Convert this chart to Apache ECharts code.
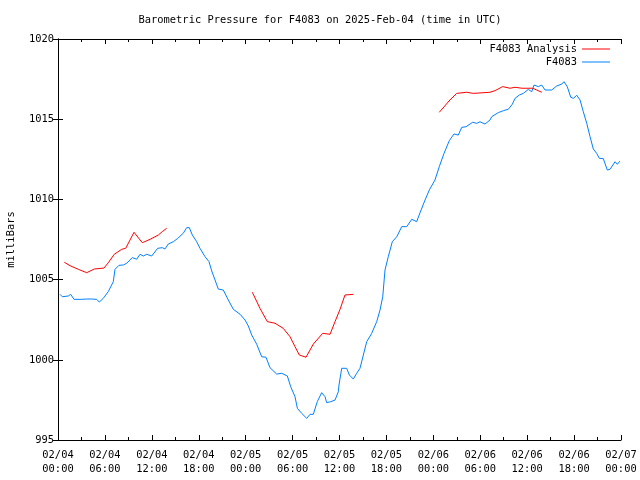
<!DOCTYPE html>
<html>
<head>
<meta charset="utf-8">
<script src="https://cdn.jsdelivr.net/npm/echarts@6/dist/echarts.min.js"></script>
<style>html,body{margin:0;padding:0;background:#fff}#c{width:640px;height:480px}</style>
</head>
<body>
<div id="c"></div>
<script>
// Hours since 2025-02-04 00:00 UTC
var obsHours = [0.26,0.55,1.32,1.62,2.05,3.03,3.67,4.31,4.95,5.28,5.79,6.43,7.07,7.29,7.80,8.35,8.79,9.50,10.07,10.49,10.91,11.34,11.98,12.75,13.34,13.68,14.11,14.75,15.31,16.02,16.46,16.79,17.18,17.74,18.16,18.38,18.80,19.31,19.66,20.08,20.50,21.14,21.78,22.42,23.28,23.92,24.34,24.77,25.41,26.05,26.60,27.11,27.97,28.61,29.33,29.76,30.31,30.61,31.17,31.81,32.23,32.65,33.16,33.72,34.15,34.36,34.88,35.43,35.85,35.94,36.28,36.92,37.26,37.77,38.20,38.62,39.48,40.12,40.76,41.18,41.53,41.82,42.24,42.75,43.32,43.96,44.60,45.24,45.87,46.30,46.94,47.49,48.21,48.76,49.37,50.04,50.64,51.19,51.63,52.18,53.04,53.55,53.97,54.61,55.25,55.47,56.31,56.95,57.59,58.10,58.45,59.00,59.51,60.15,60.58,60.88,61.43,61.86,62.28,63.14,63.78,64.42,64.71,65.13,65.57,65.90,66.34,66.76,67.18,67.62,68.04,68.46,68.89,69.23,69.74,70.25,70.60,71.24,71.53,71.87];
var obsPressure = [1004.08,1003.93,1003.98,1004.08,1003.77,1003.77,1003.79,1003.79,1003.77,1003.60,1003.83,1004.25,1004.87,1005.64,1005.89,1005.91,1006.02,1006.37,1006.27,1006.58,1006.47,1006.58,1006.47,1006.95,1006.99,1006.91,1007.22,1007.36,1007.57,1007.89,1008.24,1008.24,1007.78,1007.36,1006.95,1007.05,1006.43,1006.12,1005.54,1004.98,1004.41,1004.35,1003.73,1003.15,1002.84,1002.48,1002.11,1001.55,1000.97,1000.19,1000.16,999.51,999.11,999.16,998.99,998.32,997.70,996.98,996.66,996.35,996.60,996.60,997.39,997.95,997.70,997.33,997.39,997.49,998.01,998.43,999.47,999.47,999.05,998.80,999.16,999.47,1001.13,1001.65,1002.38,1003.10,1003.93,1005.60,1006.43,1007.36,1007.67,1008.30,1008.30,1008.76,1008.61,1009.17,1009.96,1010.59,1011.21,1012.04,1012.87,1013.66,1014.08,1014.01,1014.49,1014.53,1014.81,1014.74,1014.84,1014.70,1014.95,1015.16,1015.41,1015.53,1015.62,1015.93,1016.30,1016.51,1016.61,1016.86,1016.71,1017.13,1017.03,1017.13,1016.82,1016.82,1017.07,1017.19,1017.34,1017.03,1016.37,1016.30,1016.49,1016.20,1015.47,1014.74,1013.91,1013.14,1012.87,1012.56,1012.54,1011.83,1011.88,1012.35,1012.19,1012.39];
// null entries separate the analysis runs
var anaHours = [0.81,1.53,2.60,3.67,4.64,5.88,6.43,7.20,8.15,8.66,9.72,10.78,11.77,12.83,13.34,13.90,
  null,
  24.85,25.83,26.77,27.75,28.81,29.67,30.31,30.86,31.72,32.65,33.85,34.79,35.43,36.07,36.70,37.77,
  null,
  48.76,50.13,50.99,52.27,53.11,55.25,55.89,56.87,57.81,58.45,59.30,60.71,61.22,61.86];
var anaPressure = [1006.08,1005.87,1005.64,1005.43,1005.66,1005.72,1006.05,1006.58,1006.89,1006.95,1007.95,1007.30,1007.51,1007.78,1007.99,1008.20,
  null,
  1004.21,1003.21,1002.38,1002.28,1001.96,1001.44,1000.82,1000.30,1000.16,1000.98,1001.65,1001.59,1002.38,1003.15,1004.04,1004.08,
  null,
  1015.43,1016.20,1016.61,1016.68,1016.61,1016.68,1016.78,1017.03,1016.93,1016.99,1016.93,1016.93,1016.82,1016.68];

var xMin = 0, xMax = 72, xStep = 6;
var yMin = 995, yMax = 1020, yStep = 5;
var titleText = 'Barometric Pressure for F4083 on 2025-Feb-04 (time in UTC)';
var yName = 'milliBars';
var anaName = 'F4083 Analysis', obsName = 'F4083';

function pad(n){return (n<10?'0':'')+n;}
function xLabel(h){
  var day = 4 + Math.floor(h/24);
  var hr = h % 24;
  return '02/' + pad(day) + '\n' + pad(hr) + ':00';
}
var obsData = obsHours.map(function(h,i){return [h, obsPressure[i]];});
var anaData = anaHours.map(function(h,i){return h===null ? ['-','-'] : [h, anaPressure[i]];});

var font = 'DejaVu Sans Mono';
var fs = 10.4;
var tstyle = {fontFamily: font, fontSize: fs, color: '#000'};
var axisLine = {show:true, lineStyle:{color:'#000', width:1}};

var chart = echarts.init(document.getElementById('c'), null, {renderer:'canvas'});
chart.setOption({
  animation: false,
  backgroundColor: '#fff',
  title: {text: titleText, left: 'center', top: 10, textStyle: {fontFamily: font, fontSize: fs, fontWeight: 'normal', color: '#000'}},
  grid: {left: 58, right: 19, top: 39, bottom: 40, containLabel: false, outerBoundsMode: 'none'},
  legend: [
    {data:[anaName], right: 30, top: 44, align:'right', icon:'rect', itemWidth:28, itemHeight:1, itemGap:0, padding:0, textStyle: tstyle},
    {data:[obsName], right: 30, top: 57, align:'right', icon:'rect', itemWidth:28, itemHeight:1, itemGap:0, padding:0, textStyle: tstyle}
  ],
  xAxis: [
    {type:'value', min:xMin, max:xMax, interval:xStep, position:'bottom', axisLine:axisLine,
     axisTick:{show:true, inside:true, length:5, lineStyle:{color:'#000'}},
     minorTick:{show:true, splitNumber:2, length:3, lineStyle:{color:'#000'}},
     splitLine:{show:false},
     axisLabel:{formatter: xLabel, fontFamily: font, fontSize: fs, color:'#000', margin: 8, lineHeight: 14, showMinLabel:true, showMaxLabel:true}},
    {type:'value', min:xMin, max:xMax, interval:xStep, position:'top', axisLine:axisLine,
     axisTick:{show:true, inside:true, length:5, lineStyle:{color:'#000'}},
     minorTick:{show:true, splitNumber:2, length:3, lineStyle:{color:'#000'}},
     splitLine:{show:false}, axisLabel:{show:false}}
  ],
  yAxis: [
    {type:'value', min:yMin, max:yMax, interval:yStep, position:'left', axisLine:axisLine,
     axisTick:{show:true, inside:true, length:5, lineStyle:{color:'#000'}},
     splitLine:{show:false},
     axisLabel:{formatter: function(v){return String(v);}, fontFamily: font, fontSize: fs, color:'#000', margin: 4},
     name: yName, nameLocation:'middle', nameGap: 42, nameRotate: 90,
     nameTextStyle:{fontFamily: font, fontSize: fs, color:'#000'}},
    {type:'value', min:yMin, max:yMax, interval:yStep, position:'right', axisLine:axisLine,
     axisTick:{show:true, inside:true, length:5, lineStyle:{color:'#000'}},
     splitLine:{show:false}, axisLabel:{show:false}}
  ],
  series: [
    {name: anaName, type:'line', data: anaData, showSymbol:false, connectNulls:false, color:'#ff0000',
     lineStyle:{width:1, color:'#ff0000'}, z:3},
    {name: obsName, type:'line', data: obsData, showSymbol:false, color:'#0080ff',
     lineStyle:{width:1, color:'#0080ff'}, z:2}
  ]
});
</script>
</body>
</html>
